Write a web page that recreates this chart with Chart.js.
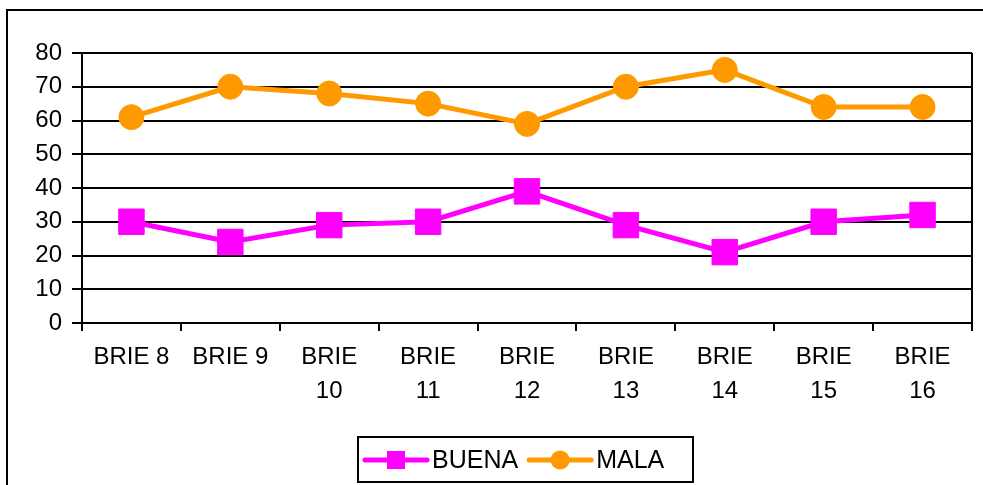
<!DOCTYPE html>
<html>
<head>
<meta charset="utf-8">
<script src="https://cdn.jsdelivr.net/npm/chart.js@4"></script>
<style>
  html, body { margin: 0; padding: 0; background: #fff; }
  #wrap { width: 983px; height: 485px; }
</style>
</head>
<body>
<div id="wrap"><canvas id="chart" width="983" height="485"></canvas></div>
<script>
const categories = [
  ["BRIE 8"], ["BRIE 9"], ["BRIE", "10"], ["BRIE", "11"], ["BRIE", "12"],
  ["BRIE", "13"], ["BRIE", "14"], ["BRIE", "15"], ["BRIE", "16"]
];
const buena = [30, 24, 29, 30, 39, 29, 21, 30, 32];
const mala = [61, 70, 68, 65, 59, 70, 75, 64, 64];
const yTicks = [0, 10, 20, 30, 40, 50, 60, 70, 80];

const FONT = "'Liberation Sans', Arial, sans-serif";

// outer frame + right border of plot + legend box
const framePlugin = {
  id: "frame",
  beforeDraw(chart) {
    const ctx = chart.ctx;
    ctx.save();
    ctx.strokeStyle = "#000";
    ctx.lineWidth = 2;
    ctx.strokeRect(7, 10, 1000, 500);
    ctx.restore();
  },
  afterDraw(chart) {
    const ctx = chart.ctx;
    const a = chart.chartArea;
    ctx.save();
    ctx.strokeStyle = "#000";
    ctx.lineWidth = 2;
    ctx.beginPath();
    ctx.moveTo(a.right, a.top);
    ctx.lineTo(a.right, a.bottom + 8);
    ctx.stroke();

    // legend
    ctx.lineWidth = 2;
    ctx.strokeRect(358, 437, 335, 45);
    const items = chart.data.datasets;
    let x = 365;
    const y = 460;
    ctx.font = "25px " + FONT;
    ctx.textBaseline = "middle";
    items.forEach(function(ds) {
      ctx.strokeStyle = ds.borderColor;
      ctx.fillStyle = ds.borderColor;
      ctx.lineWidth = 5;
      ctx.lineCap = "round";
      ctx.beginPath();
      ctx.moveTo(x, y);
      ctx.lineTo(x + 62, y);
      ctx.stroke();
      if (ds.pointStyle === "rect") {
        ctx.fillRect(x + 31 - 9, y - 9, 18, 18);
      } else {
        ctx.beginPath();
        ctx.arc(x + 31, y, 9.5, 0, Math.PI * 2);
        ctx.fill();
      }
      ctx.fillStyle = "#000";
      ctx.fillText(ds.label, x + 67, y + 1);
      x += 67 + ctx.measureText(ds.label).width + 11;
    });
    ctx.restore();
  }
};

new Chart(document.getElementById("chart"), {
  type: "line",
  data: {
    labels: categories,
    datasets: [
      {
        label: "BUENA",
        data: buena,
        borderColor: "#FF00FF",
        backgroundColor: "#FF00FF",
        borderWidth: 5,
        pointStyle: "rect",
        pointRadius: 18,
        pointBorderWidth: 1,
        pointBackgroundColor: "#FF00FF",
        pointBorderColor: "#FF00FF",
        tension: 0
      },
      {
        label: "MALA",
        data: mala,
        borderColor: "#FF9900",
        backgroundColor: "#FF9900",
        borderWidth: 5,
        pointStyle: "circle",
        pointRadius: 12.5,
        pointBorderWidth: 1,
        pointBackgroundColor: "#FF9900",
        pointBorderColor: "#FF9900",
        tension: 0
      }
    ]
  },
  options: {
    responsive: false,
    animation: false,
    layout: {
      autoPadding: false,
      padding: { left: 0, right: 11, top: 53, bottom: 0 }
    },
    plugins: {
      legend: { display: false },
      tooltip: { enabled: false }
    },
    scales: {
      x: {
        offset: true,
        grid: {
          offset: true,
          drawOnChartArea: false,
          drawTicks: true,
          tickLength: 8,
          color: "#000",
          lineWidth: 2
        },
        border: { color: "#000", width: 2 },
        ticks: {
          color: "#000",
          font: { family: FONT, size: 24, lineHeight: 1.4 },
          padding: 10,
          maxRotation: 0,
          autoSkip: false
        },
        afterFit(scale) {
          scale.height = 162;
          scale.paddingLeft = 0;
          scale.paddingRight = 0;
        }
      },
      y: {
        min: 0,
        max: 80,
        afterBuildTicks(scale) {
          scale.ticks = yTicks.map(function(v) { return { value: v }; });
        },
        grid: {
          color: "#000",
          lineWidth: 2,
          drawTicks: true,
          tickLength: 10
        },
        border: { color: "#000", width: 2 },
        ticks: {
          color: "#000",
          font: { family: FONT, size: 24 },
          padding: 10
        },
        afterFit(scale) {
          scale.width = 82;
          scale.paddingTop = 0;
          scale.paddingBottom = 0;
        }
      }
    }
  },
  plugins: [framePlugin]
});
</script>
</body>
</html>
